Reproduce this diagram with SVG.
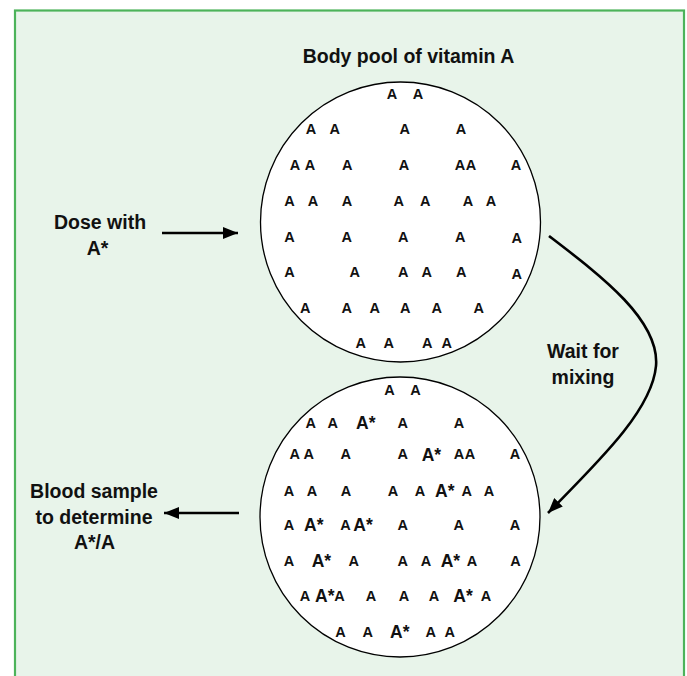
<svg xmlns="http://www.w3.org/2000/svg" width="687" height="676" viewBox="0 0 687 676">
<style>
.a{font-family:"Liberation Sans",Arial,sans-serif;font-weight:bold;font-size:14.5px;text-anchor:middle;fill:#111}
.b{font-family:"Liberation Sans",Arial,sans-serif;font-weight:bold;font-size:17.5px;text-anchor:start;fill:#111}
.l{font-family:"Liberation Sans",Arial,sans-serif;font-weight:bold;font-size:19.5px;text-anchor:middle;fill:#111}
.pool{fill:#fff;stroke:#000;stroke-width:1.3}
.conn{fill:none;stroke:#000;stroke-width:2.6}
</style>
<defs>
<marker id="ah" markerUnits="userSpaceOnUse" markerWidth="16" markerHeight="12" refX="15" refY="6" orient="auto">
<path d="M0,0 L15,6 L0,12 Z" fill="#000"/>
</marker>
</defs>
<rect id="frame" x="15" y="10.5" width="669" height="700" fill="#e8f4ea" stroke="#4cb35a" stroke-width="2.2"/>

<g id="title"><text class="l" x="408.5" y="63">Body pool of vitamin A</text></g>

<g id="pool-before">
<circle class="pool" cx="400.5" cy="222" r="140"/>
<text class="a" y="99"><tspan x="392">A</tspan><tspan x="418">A</tspan></text>
<text class="a" y="134"><tspan x="311">A</tspan><tspan x="334.7">A</tspan><tspan x="404.7">A</tspan><tspan x="461">A</tspan></text>
<text class="a" y="170"><tspan x="295">A</tspan><tspan x="310">A</tspan><tspan x="347.3">A</tspan><tspan x="404">A</tspan><tspan x="460">A</tspan><tspan x="471">A</tspan><tspan x="516">A</tspan></text>
<text class="a" y="206"><tspan x="289.5">A</tspan><tspan x="313">A</tspan><tspan x="347">A</tspan><tspan x="398.7">A</tspan><tspan x="425.3">A</tspan><tspan x="468">A</tspan><tspan x="491">A</tspan></text>
<text class="a" y="242"><tspan x="289.5">A</tspan><tspan x="346.7">A</tspan><tspan x="403.3">A</tspan><tspan x="460.3">A</tspan><tspan x="516.7" dy="1">A</tspan></text>
<text class="a" y="277"><tspan x="289.5">A</tspan><tspan x="354.7">A</tspan><tspan x="403.3">A</tspan><tspan x="426.7">A</tspan><tspan x="461.3">A</tspan><tspan x="516.7" dy="2">A</tspan></text>
<text class="a" y="313"><tspan x="305.3">A</tspan><tspan x="346.7">A</tspan><tspan x="374.7">A</tspan><tspan x="405.3">A</tspan><tspan x="436.7">A</tspan><tspan x="478.7">A</tspan></text>
<text class="a" y="348"><tspan x="360.7">A</tspan><tspan x="388.7">A</tspan><tspan x="427.3">A</tspan><tspan x="446.7">A</tspan></text>
</g>

<g id="pool-after">
<circle class="pool" cx="400" cy="517" r="140"/>
<text class="a" y="395"><tspan x="389.5">A</tspan><tspan x="415.5">A</tspan></text>
<text class="a" y="428"><tspan x="310.7">A</tspan><tspan x="332.8">A</tspan><tspan x="402.8">A</tspan><tspan x="459">A</tspan></text>
<text class="b" x="356" y="428.5">A*</text>
<text class="a" y="459"><tspan x="294.7">A</tspan><tspan x="308.7">A</tspan><tspan x="345.8">A</tspan><tspan x="402.8">A</tspan><tspan x="459">A</tspan><tspan x="470">A</tspan><tspan x="515">A</tspan></text>
<text class="b" x="421.7" y="460.5">A*</text>
<text class="a" y="496"><tspan x="289">A</tspan><tspan x="312">A</tspan><tspan x="346">A</tspan><tspan x="393">A</tspan><tspan x="420">A</tspan><tspan x="466.7">A</tspan><tspan x="489">A</tspan></text>
<text class="b" x="435" y="497">A*</text>
<text class="a" y="530"><tspan x="289">A</tspan><tspan x="345.5">A</tspan><tspan x="402.8">A</tspan><tspan x="458.7">A</tspan><tspan x="515">A</tspan></text>
<text class="b" x="304" y="531"><tspan>A*</tspan><tspan x="353.3">A*</tspan></text>
<text class="a" y="566"><tspan x="289">A</tspan><tspan x="353.8">A</tspan><tspan x="402.8">A</tspan><tspan x="426">A</tspan><tspan x="472">A</tspan><tspan x="515.5">A</tspan></text>
<text class="b" x="311.7" y="567"><tspan>A*</tspan><tspan x="440.7">A*</tspan></text>
<text class="a" y="601"><tspan x="305">A</tspan><tspan x="339.5">A</tspan><tspan x="371">A</tspan><tspan x="404">A</tspan><tspan x="434">A</tspan><tspan x="486">A</tspan></text>
<text class="b" x="315" y="602"><tspan>A*</tspan><tspan x="453.3">A*</tspan></text>
<text class="a" y="637"><tspan x="340.5">A</tspan><tspan x="367.8">A</tspan><tspan x="430.8">A</tspan><tspan x="449.8">A</tspan></text>
<text class="b" x="390" y="638">A*</text>
</g>

<g id="dose"><text class="l" x="100" y="229">Dose with</text><text class="l" x="97.5" y="255">A*</text></g>
<g id="sample"><text class="l" x="94" y="498">Blood sample</text><text class="l" x="94" y="524">to determine</text><text class="l" x="94.5" y="549">A*/A</text></g>
<g id="wait"><text class="l" x="583" y="358">Wait for</text><text class="l" x="583" y="384">mixing</text></g>

<g id="connectors">
<path class="conn" d="M162,233 L238,233" marker-end="url(#ah)"/>
<path class="conn" d="M239,513 L164,513" marker-end="url(#ah)"/>
<path class="conn" d="M549,236 C600,275 660,320 656,366 C652,410 600,460 548,513" marker-end="url(#ah)"/>
</g>
</svg>
